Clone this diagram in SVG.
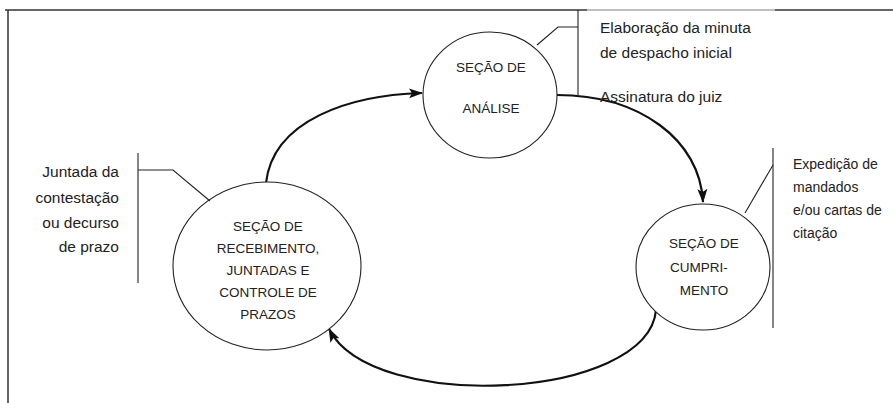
<svg xmlns="http://www.w3.org/2000/svg" width="893" height="403" viewBox="0 0 893 403">
<style>
.node{fill:#fff;stroke:#222;stroke-width:1.1}
.lbl{font-family:"Liberation Sans",Arial,sans-serif;font-size:13.5px;fill:#222;text-anchor:middle}
.note{font-family:"Liberation Sans",Arial,sans-serif;font-size:15.5px;fill:#222}
.call{fill:none;stroke:#222;stroke-width:1.1}
.flow{fill:none;stroke:#111;stroke-width:2.2}
.frame{stroke:#333;stroke-width:1.5;fill:none}
</style>
<defs>
<marker id="ah" markerUnits="userSpaceOnUse" markerWidth="14" markerHeight="12" refX="13" refY="6" orient="auto">
<path d="M0,1 L14,6 L0,11 L3,6 Z" fill="#111"/>
</marker>
<clipPath id="clipC"><rect x="600" y="250" width="133" height="30"/></clipPath>
</defs>
<g id="frame">
<line class="frame" x1="5" y1="10" x2="587" y2="10"/>
<line x1="587" y1="10" x2="775" y2="10" stroke="#aaa" stroke-width="1.5"/>
<line class="frame" x1="775" y1="10" x2="893" y2="10"/>
<line class="frame" x1="8" y1="10" x2="8" y2="403"/>
</g>
<g id="connectors">
<path class="flow" d="M266 183 C273 120 350 95 422 93" marker-end="url(#ah)"/>
<path class="flow" d="M557 95 C640 95 700 140 703 202" marker-end="url(#ah)"/>
<path class="flow" d="M656 310 C648 400 372 414 329 329" marker-end="url(#ah)"/>
</g>
<g id="node-analise">
<ellipse class="node" cx="490" cy="95" rx="67" ry="63"/>
<text class="lbl" x="491" y="72">SEÇÃO DE</text>
<text class="lbl" x="491" y="113">ANÁLISE</text>
</g>
<g id="node-recebimento">
<ellipse class="node" cx="267" cy="266" rx="94" ry="84"/>
<text class="lbl" x="268" y="231">SEÇÃO DE</text>
<text class="lbl" x="268" y="253">RECEBIMENTO,</text>
<text class="lbl" x="268" y="275">JUNTADAS E</text>
<text class="lbl" x="268" y="297">CONTROLE DE</text>
<text class="lbl" x="268" y="319">PRAZOS</text>
</g>
<g id="node-cumprimento">
<ellipse class="node" cx="703" cy="267" rx="67" ry="63"/>
<text class="lbl" x="704" y="248">SEÇÃO DE</text>
<text class="lbl" x="670" y="272" style="text-anchor:start" clip-path="url(#clipC)">CUMPRI-</text>
<text class="lbl" x="704" y="295">MENTO</text>
</g>
<g id="note-analise">
<polyline class="call" points="537,45 558,27 578,27"/>
<line class="call" x1="578" y1="10" x2="578" y2="95"/>
<text class="note" x="600" y="33">Elaboração da minuta</text>
<text class="note" x="600" y="58">de despacho inicial</text>
<text class="note" x="600" y="102">Assinatura do juiz</text>
</g>
<g id="note-recebimento">
<line class="call" x1="138" y1="153" x2="138" y2="283"/>
<polyline class="call" points="138,170 173,170 210,201"/>
<text class="note" x="119" y="177" text-anchor="end">Juntada da</text>
<text class="note" x="119" y="203" text-anchor="end">contestação</text>
<text class="note" x="119" y="228" text-anchor="end">ou decurso</text>
<text class="note" x="119" y="252" text-anchor="end">de prazo</text>
</g>
<g id="note-cumprimento">
<line class="call" x1="773" y1="148" x2="773" y2="328"/>
<line class="call" x1="773" y1="165" x2="745" y2="213"/>
<text class="note" x="793" y="169" style="font-size:14px">Expedição de</text>
<text class="note" x="793" y="192" style="font-size:14px">mandados</text>
<text class="note" x="793" y="215" style="font-size:14px">e/ou cartas de</text>
<text class="note" x="793" y="238" style="font-size:14px">citação</text>
</g>
</svg>
